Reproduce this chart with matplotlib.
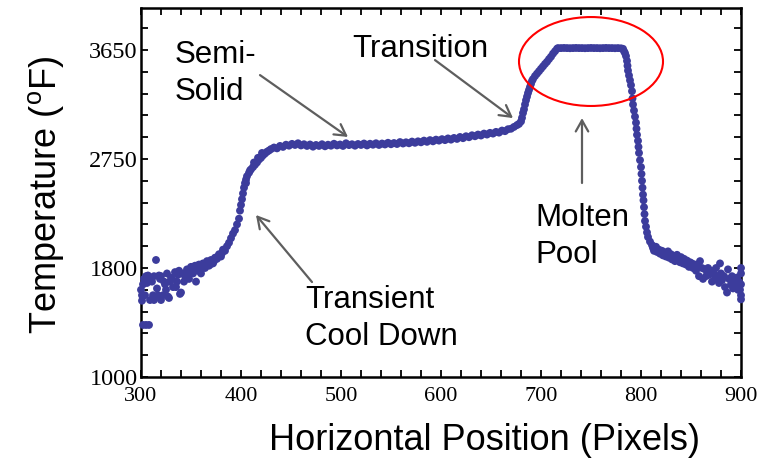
import numpy as np
import matplotlib
matplotlib.use("Agg")
import matplotlib.pyplot as plt
from matplotlib.patches import Ellipse

# --- data (x in pixels, temperature in deg F) ---
cool_x = [302, 305, 308, 300, 301, 301, 302, 303, 305, 306, 307, 310,
          312, 313, 313, 315, 316, 318, 320, 320, 322, 323, 325, 326,
          328, 329, 330, 332, 334, 336, 338, 339, 340, 342, 344, 346,
          348, 350, 352, 354, 355, 357, 358, 360, 362, 364, 366, 368,
          370, 372, 374, 376, 378, 380, 382, 384, 386, 388, 390, 392,
          394, 396, 398, 399, 400,
          304, 309, 311, 317, 319, 324, 327, 331, 335, 337, 343, 347,
          351, 356, 361, 365, 369, 373, 377, 381]
cool_t = [1382, 1382, 1382, 1640, 1560, 1600, 1680, 1720, 1740, 1690, 1745, 1720,
          1600, 1565, 1740, 1870, 1650, 1745, 1565, 1740, 1600, 1700, 1640, 1760,
          1580, 1700, 1730, 1660, 1770, 1700, 1780, 1610, 1620, 1760, 1740, 1790,
          1720, 1810, 1760, 1820, 1700, 1780, 1830, 1760, 1840, 1800, 1860, 1820,
          1870, 1840, 1890, 1880, 1920, 1900, 1960, 1950, 1990, 2020, 2060, 2100,
          2130, 2180, 2230, 2300, 2350,
          1600, 1565, 1700, 1600, 1720, 1680, 1590, 1720, 1660, 1750, 1700, 1770,
          1790, 1820, 1800, 1840, 1830, 1860, 1900, 1930]

rise_x = [401, 402, 403, 404, 405, 405, 406, 408, 409, 410, 412, 413, 414,
          416, 417, 418, 420, 421, 422, 424, 426, 428]
rise_t = [2400, 2450, 2500, 2540, 2570, 2540, 2600, 2630, 2650, 2660, 2680, 2720, 2700,
          2720, 2760, 2745, 2760, 2800, 2780, 2795, 2810, 2820]

semi_x = [430, 433, 436, 439, 442, 445, 448, 451, 454, 457, 460, 463, 466, 469,
          472, 475, 478, 481, 484, 487, 490, 493, 496, 499, 502, 505, 508, 511,
          514, 517, 520, 523, 526, 529, 532, 535, 538, 541, 544, 547, 550, 553,
          556, 559, 562, 565, 568, 571, 574, 577, 580, 583, 586, 589, 592, 595,
          598, 601, 604, 607, 610, 613, 616, 619, 622, 625, 628, 631, 634, 637,
          640, 643, 646, 649, 652, 655, 658, 661, 664, 667, 670, 673, 676]
semi_t = [2832, 2845, 2838, 2858, 2850, 2868, 2860, 2875, 2866, 2880, 2862, 2872, 2858, 2870,
          2852, 2866, 2858, 2872, 2855, 2868, 2860, 2876, 2862, 2870, 2858, 2880, 2865, 2872,
          2860, 2874, 2866, 2878, 2862, 2876, 2868, 2880, 2866, 2878, 2870, 2884, 2872, 2882,
          2874, 2890, 2878, 2888, 2880, 2894, 2884, 2896, 2888, 2902, 2892, 2906, 2896, 2910,
          2902, 2914, 2906, 2920, 2910, 2924, 2916, 2932, 2922, 2938, 2930, 2946, 2938, 2952,
          2944, 2960, 2952, 2966, 2960, 2974, 2968, 2985, 2980, 2996, 3000, 3015, 3030]

ramp_x = [678, 680, 681, 682, 683, 684, 685, 686, 687, 688, 689, 690, 691,
          692, 694, 696, 698, 700, 702, 704, 706, 708, 710, 712, 714, 716]
ramp_t = [3040, 3060, 3090, 3130, 3160, 3200, 3235, 3265, 3295, 3320, 3345, 3370, 3395,
          3410, 3435, 3455, 3475, 3495, 3515, 3535, 3553, 3575, 3595, 3620, 3640, 3660]

pool_x = [717, 720, 723, 726, 729, 732, 735, 738, 741, 744, 747, 750,
          753, 756, 759, 762, 765, 768, 771, 774, 777, 780, 782]
pool_t = [3666, 3666, 3667, 3666, 3665, 3666, 3667, 3666, 3666, 3665, 3666, 3667,
          3666, 3666, 3665, 3666, 3667, 3666, 3666, 3665, 3666, 3664, 3660]

drop_x = [783, 784, 785, 786, 786.5, 787, 788, 789, 790, 791, 791.5, 792, 793,
          794, 795, 795.5, 796, 797, 797.5, 798, 799, 800, 800.5, 801, 801.5,
          802, 802.5, 803, 803.5, 804, 805, 806, 807, 809, 811]
drop_t = [3640, 3625, 3600, 3560, 3520, 3480, 3440, 3400, 3360, 3310, 3250, 3200, 3150,
          3100, 3050, 3000, 2950, 2900, 2850, 2800, 2740, 2680, 2620, 2560, 2500,
          2440, 2390, 2330, 2270, 2210, 2160, 2110, 2070, 2030, 2000]

tail_x = [812, 813, 815, 816, 818, 819, 821, 822, 824, 825, 827, 828, 830, 831,
          833, 834, 836, 837, 839, 840, 842, 843, 845, 846, 848, 849, 851, 852,
          854, 855, 857, 858, 859, 861, 862, 864, 865, 867, 868, 870, 871, 873,
          874, 875, 877, 878, 879, 880, 881, 883, 884, 886, 887, 888, 890, 891,
          892, 894, 895, 896, 897, 898, 899, 900, 900, 900, 900, 900]
tail_t = [1975, 1950, 1985, 1940, 1960, 1925, 1950, 1910, 1935, 1900, 1945, 1890, 1920, 1875,
          1905, 1860, 1915, 1870, 1850, 1895, 1840, 1880, 1830, 1865, 1810, 1850, 1840, 1800,
          1830, 1780, 1820, 1740, 1860, 1800, 1720, 1790, 1740, 1800, 1750, 1780, 1700, 1760,
          1720, 1800, 1740, 1690, 1840, 1760, 1710, 1740, 1660, 1620, 1790, 1720, 1680, 1740,
          1650, 1710, 1670, 1730, 1640, 1700, 1640, 1760, 1600, 1680, 1800, 1570]

x_ticks = [300, 400, 500, 600, 700, 800, 900]
y_ticks = [1000, 1800, 2750, 3650]

# the temperature axis is evenly spaced between unevenly valued labels
t_pts = [0, 1000, 1800, 2750, 3650, 6000]
u_pts = [-6.25, 0, 5, 10, 15, 15 + 2350 / 180]


def fwd(v):
    return np.interp(v, t_pts, u_pts)


def inv(u):
    return np.interp(u, u_pts, t_pts)


dot_col = '#3c3c9c'
arrow_col = '#5e5e5e'

fig = plt.figure(figsize=(7.69, 4.65), dpi=100)
ax = fig.add_axes([141 / 769, 1 - 377 / 465, 600 / 769, 369 / 465])
ax.set_yscale('function', functions=(fwd, inv))

for xs, ts in [(cool_x, cool_t), (rise_x, rise_t), (semi_x, semi_t), (ramp_x, ramp_t),
               (pool_x, pool_t), (drop_x, drop_t), (tail_x, tail_t)]:
    ax.scatter(xs, ts, s=32, color=dot_col, edgecolors='none', zorder=3, clip_on=False)

ax.set_xlim(300, 900)
ax.set_ylim(1000, 3997)
ax.set_xticks(x_ticks)
ax.set_xticks(np.arange(300, 901, 20), minor=True)
ax.set_yticks(y_ticks)
ax.set_yticks(inv(np.arange(0, 17)), minor=True)
ax.set_yticklabels([str(v) for v in y_ticks])
ax.set_xticklabels([str(v) for v in x_ticks])

ax.tick_params(which='both', direction='in', top=True, right=True, length=5, width=1.3)
ax.tick_params(axis='x', pad=7, labelsize=16)
ax.tick_params(axis='y', pad=2.5, labelsize=17.5)
for lab in ax.get_xticklabels() + ax.get_yticklabels():
    lab.set_family('Liberation Serif')
for sp in ax.spines.values():
    sp.set_linewidth(1.8)

ax.set_xlabel('Horizontal Position (Pixels)', family='Liberation Sans', fontsize=26,
              va='center')
ax.xaxis.set_label_coords(0.572, -0.171)
ax.set_ylabel(r'Temperature ($\mathregular{^o}$F)', family='Liberation Sans', fontsize=26,
              va='center')
ax.yaxis.set_label_coords(-0.158, 0.493)

# annotations (baseline of the last line)
txt = dict(family='Liberation Sans', fontsize=22.5, ha='left', va='baseline',
           linespacing=1.32)
ax.text(334, 3238, 'Semi-\nSolid', **txt)
ax.text(511, 3592, 'Transition', **txt)
ax.text(694, 1844, 'Molten\nPool', **txt)
ax.text(464, 1235, 'Transient\nCool Down', **txt)

arr = dict(arrowstyle='->,head_length=0.8,head_width=0.45', color=arrow_col, lw=1.6,
           shrinkA=0, shrinkB=0)
ax.annotate('', xy=(507, 2932), xytext=(419, 3443), arrowprops=arr)
ax.annotate('', xy=(672, 3088), xytext=(594, 3567), arrowprops=arr)
ax.annotate('', xy=(741, 3088), xytext=(741, 2541), arrowprops=arr)
ax.annotate('', xy=(415, 2262), xytext=(471, 1697), arrowprops=arr)

ax.add_patch(Ellipse((0.75, 0.855), 0.24, 0.241, transform=ax.transAxes,
                     fill=False, edgecolor='red', lw=1.5, zorder=4))

fig.savefig('out.png', dpi=100)
